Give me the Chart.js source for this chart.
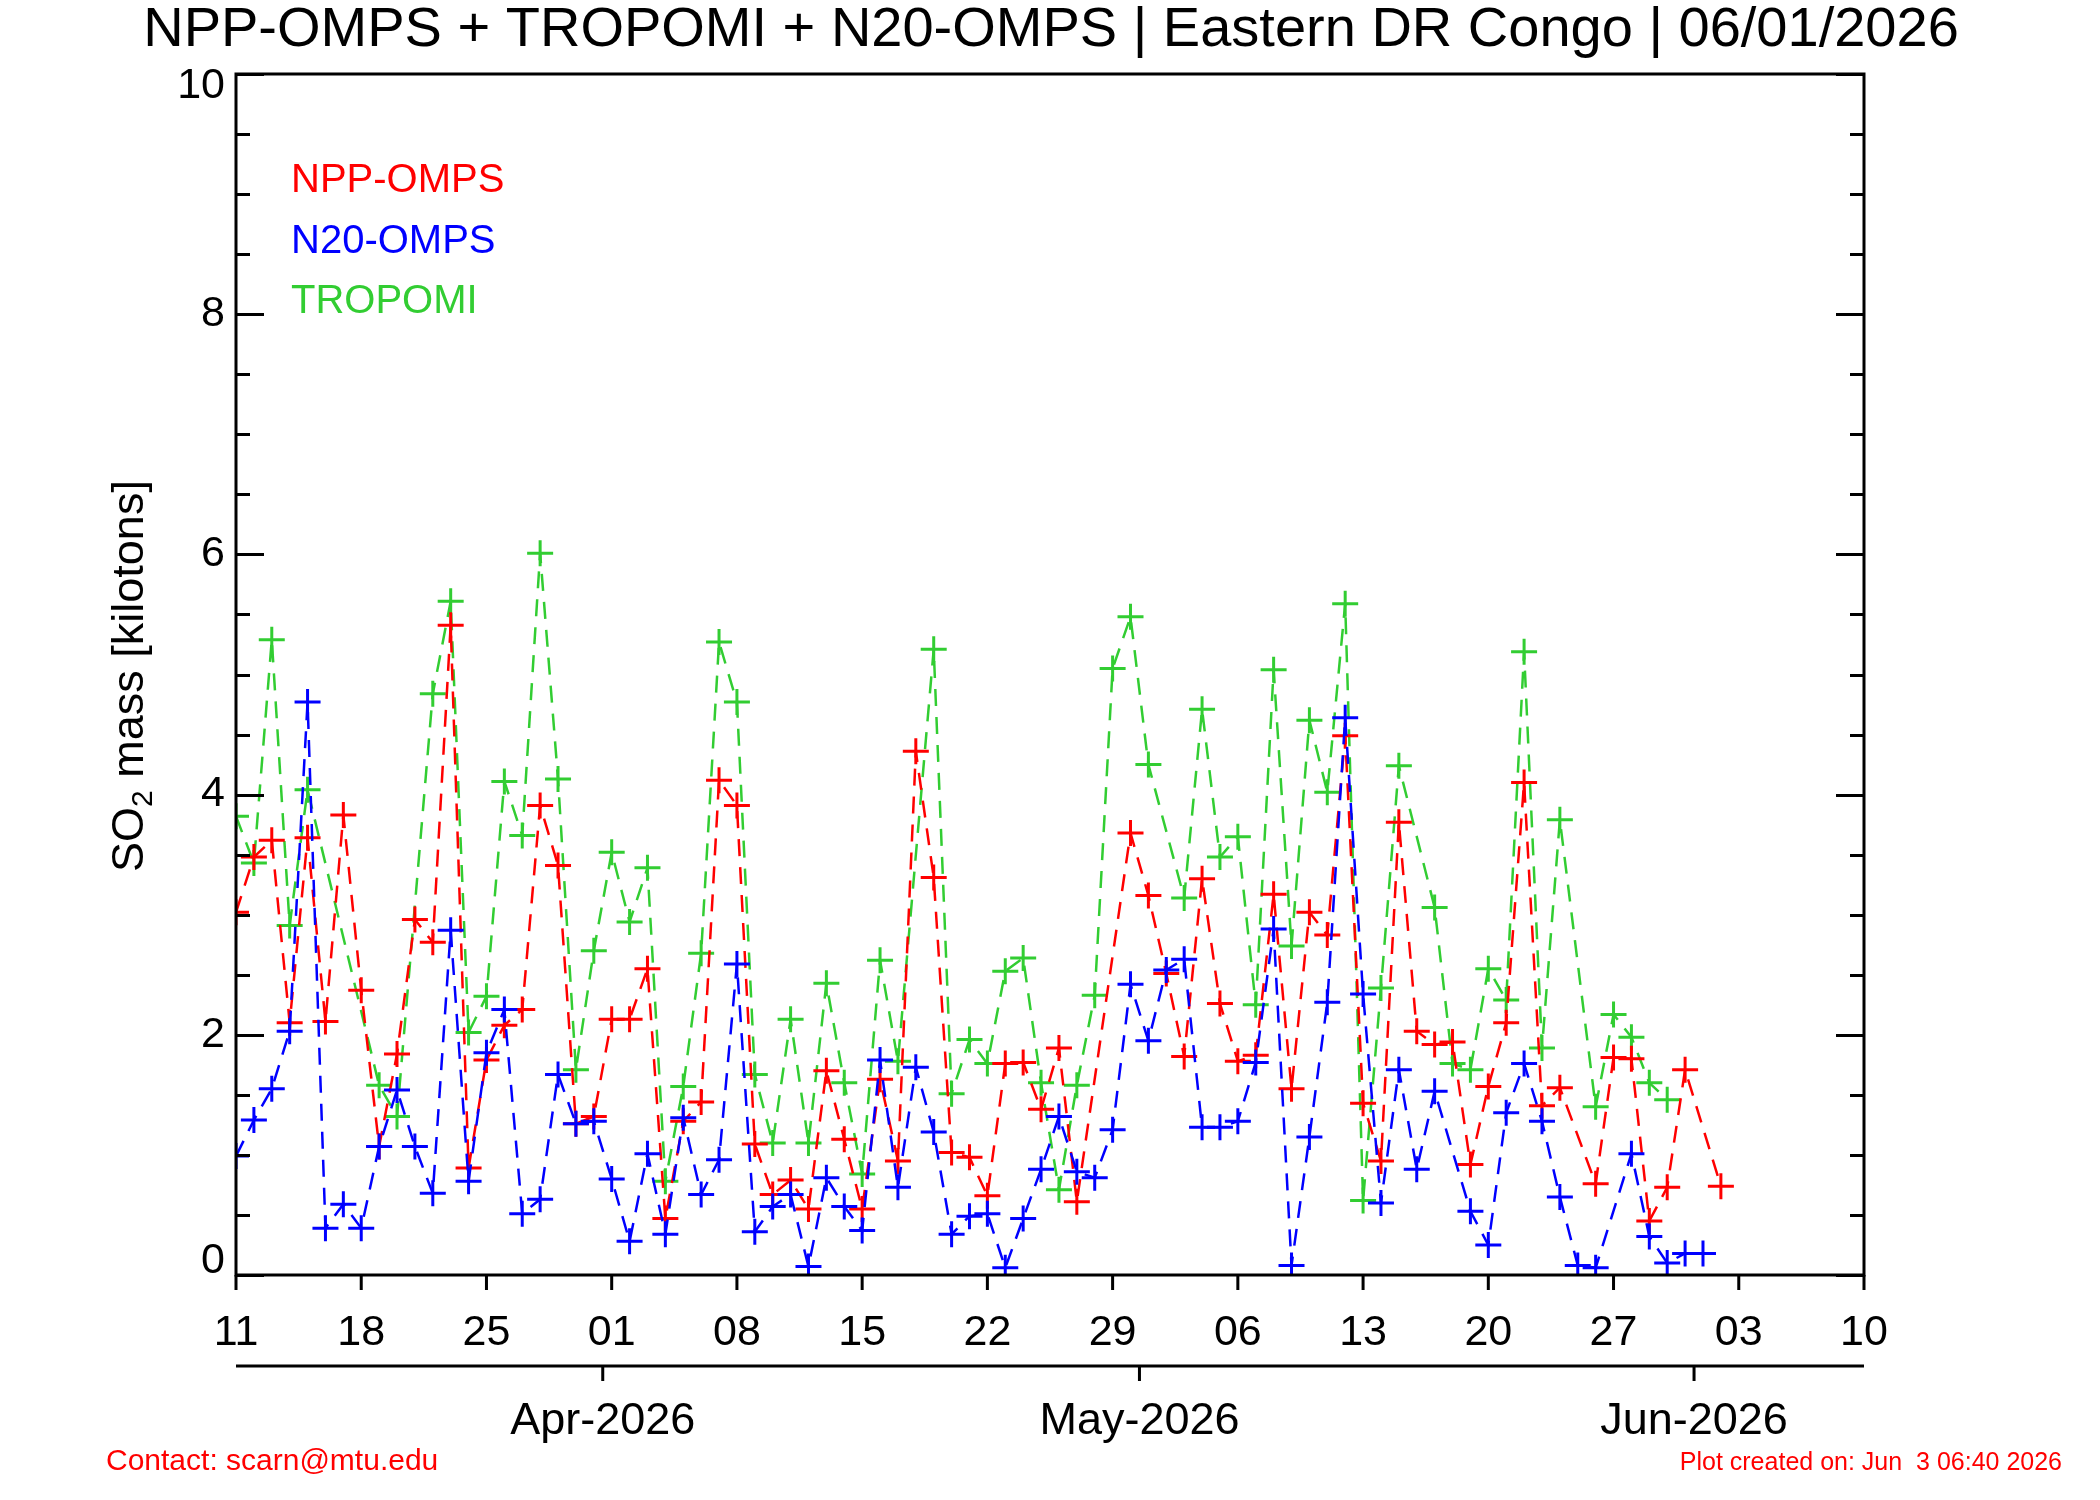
<!DOCTYPE html>
<html>
<head>
<meta charset="utf-8">
<script src="https://cdn.jsdelivr.net/npm/chart.js@4.4.1/dist/chart.umd.min.js"></script>
<style>
  html, body { margin: 0; padding: 0; background: #fff; }
  canvas { display: block; }
</style>
</head>
<body>
<canvas id="so2Chart" width="2100" height="1500"></canvas>
<script>
// one value per day, index 0 = 11 Mar 2026 (null = no value that day)
const nppOmps = [
  3.02, 3.48, 3.62, 2.10, 3.64, 2.11, 3.83, 2.37, 1.07, 1.84,
  2.96, 2.77, 5.41, 0.89, 1.79, 2.08, 2.21, 3.91, 3.41, 1.26,
  1.32, 2.13, 2.13, 2.55, 0.47, 1.28, 1.44, 4.12, 3.91, 1.09,
  0.67, 0.79, 0.55, 1.70, 1.13, 0.55, 1.63, 0.95, 4.36, 3.31,
  1.02, 0.98, 0.66, 1.76, 1.77, 1.38, 1.89, 0.61, null, null,
  3.68, 3.16, 2.51, 1.82, 3.30, 2.26, 1.78, 1.83, 3.17, 1.55,
  3.02, 2.83, 4.49, 1.43, 0.95, 3.77, 2.03, 1.92, 1.94, 0.92,
  1.57, 2.10, 4.10, 1.41, 1.56, null, 0.76, 1.81, 1.80, 0.45,
  0.73, 1.71, null, 0.74
];
const n20Omps = [
  0.99, 1.29, 1.55, 2.03, 4.77, 0.39, 0.59, 0.39, 1.07, 1.54,
  1.07, 0.68, 2.87, 0.78, 1.85, 2.21, 0.51, 0.63, 1.67, 1.26,
  1.28, 0.80, 0.28, 1.01, 0.34, 1.31, 0.67, 0.96, 2.59, 0.36,
  0.57, 0.67, 0.07, 0.81, 0.57, 0.37, 1.79, 0.73, 1.73, 1.19,
  0.34, 0.49, 0.51, 0.06, 0.47, 0.88, 1.32, 0.86, 0.81, 1.21,
  2.42, 1.95, 2.54, 2.63, 1.23, 1.23, 1.28, 1.77, 2.88, 0.08,
  1.15, 2.27, 4.64, 2.34, 0.60, 1.71, 0.88, 1.53, null, 0.53,
  0.25, 1.35, 1.76, 1.28, 0.65, 0.08, 0.06, null, 1.01, 0.32,
  0.10, 0.18, 0.18, null
];
const tropomi = [
  3.82, 3.43, 5.29, 2.91, 4.04, null, null, null, 1.58, 1.32,
  null, 4.84, 5.61, 2.02, 2.32, 4.11, 3.66, 6.01, 4.13, 1.71,
  2.70, 3.52, 2.94, 3.39, 0.78, 1.57, 2.68, 5.27, 4.77, 1.67,
  1.10, 2.13, 1.10, 2.43, 1.60, 0.84, 2.62, 1.78, null, 5.21,
  1.51, 1.96, 1.76, 2.53, 2.64, 1.60, 0.71, 1.58, 2.33, 5.05,
  5.48, 4.25, null, 3.14, 4.71, 3.48, 3.65, 2.25, 5.04, 2.74,
  4.62, 4.02, 5.59, 0.62, 2.39, 4.24, null, 3.06, 1.76, 1.71,
  2.55, 2.29, 5.19, 1.89, 3.79, null, 1.40, 2.17, 1.98, 1.60,
  1.46, null, null, null
];

// x axis: weekly ticks (days since 11 Mar) and their day-of-month labels
const dayTicks = [0, 7, 14, 21, 28, 35, 42, 49, 56, 63, 70, 77, 84, 91];
const dayTickLabels = ['11', '18', '25', '01', '08', '15', '22', '29', '06', '13', '20', '27', '03', '10'];
const monthTicks = [20.5, 50.5, 81.5];
const monthLabels = ['Apr-2026', 'May-2026', 'Jun-2026'];
const yLabels = [0, 2, 4, 6, 8, 10];

const FONT = "'Liberation Sans', Arial, Helvetica, sans-serif";
const RED = '#ff0000', BLUE = '#0000ff', GREEN = '#32cd32';

function toPoints(vals) {
  return vals.map((v, i) => v === null ? null : { x: i, y: v }).filter(p => p);
}

function series(vals, color, order) {
  return {
    data: toPoints(vals),
    borderColor: color,
    borderWidth: 2.5,
    borderDash: [17, 11],
    pointStyle: 'cross',
    pointRadius: 13,
    pointBorderWidth: 3,
    pointBorderColor: color,
    pointBackgroundColor: color,
    fill: false,
    tension: 0,
    order: order
  };
}

// axes, ticks and all the texts, drawn around the library's scales
const frame = {
  id: 'frame',
  afterDatasetsDraw(chart) {
    const { ctx, chartArea: a, scales: { x, y } } = chart;
    ctx.save();
    ctx.strokeStyle = '#000';
    ctx.lineWidth = 3;
    ctx.lineCap = 'butt';
    ctx.strokeRect(a.left, a.top, a.right - a.left, a.bottom - a.top);

    ctx.beginPath();
    // y ticks every 0.5, long ones at labels, both sides pointing in
    for (let v = 0; v <= 10; v += 0.5) {
      const py = Math.round(y.getPixelForValue(v)) + 0.5;
      const len = v % 2 === 0 ? 28 : 14;
      ctx.moveTo(a.left, py); ctx.lineTo(a.left + len, py);
      ctx.moveTo(a.right, py); ctx.lineTo(a.right - len, py);
    }
    // x ticks pointing down
    dayTicks.forEach(d => {
      const px = x.getPixelForValue(d);
      ctx.moveTo(px, a.bottom); ctx.lineTo(px, a.bottom + 15);
    });
    // month axis underneath
    const my = 1366;
    ctx.moveTo(a.left, my); ctx.lineTo(a.right, my);
    monthTicks.forEach(d => {
      const px = x.getPixelForValue(d);
      ctx.moveTo(px, my); ctx.lineTo(px, my + 15);
    });
    ctx.stroke();
    ctx.restore();
  },
  afterDraw(chart) {
    const { ctx, chartArea: a, scales: { x, y } } = chart;
    ctx.save();
    ctx.fillStyle = '#000';
    ctx.textBaseline = 'middle';

    // title
    ctx.font = `56px ${FONT}`;
    ctx.textAlign = 'center';
    ctx.fillText('NPP-OMPS + TROPOMI + N20-OMPS | Eastern DR Congo | 06/01/2026', 1051, 31);

    // y labels
    ctx.font = `43px ${FONT}`;
    ctx.textAlign = 'right';
    yLabels.forEach(v => {
      let py = y.getPixelForValue(v);
      if (v === 0) py -= 14;
      if (v === 10) py += 12;
      ctx.fillText(String(v), a.left - 11, py);
    });

    // x labels
    ctx.textAlign = 'center';
    dayTicks.forEach((d, i) => {
      ctx.fillText(dayTickLabels[i], x.getPixelForValue(d), 1333);
    });
    ctx.font = `45px ${FONT}`;
    monthTicks.forEach((d, i) => {
      ctx.fillText(monthLabels[i], x.getPixelForValue(d), 1422);
    });

    // y title with subscript
    ctx.save();
    ctx.translate(127, 676);
    ctx.rotate(-Math.PI / 2);
    ctx.textAlign = 'left';
    ctx.textBaseline = 'alphabetic';
    const big = `45px ${FONT}`, small = `30px ${FONT}`;
    ctx.font = big;
    const w1 = ctx.measureText('SO').width;
    const w3 = ctx.measureText(' mass [kilotons]').width;
    ctx.font = small;
    const w2 = ctx.measureText('2').width;
    let sx = -(w1 + w2 + w3) / 2;
    ctx.font = big;
    ctx.fillText('SO', sx, 16);
    ctx.font = small;
    ctx.fillText('2', sx + w1, 25);
    ctx.font = big;
    ctx.fillText(' mass [kilotons]', sx + w1 + w2, 16);
    ctx.restore();

    // legend
    ctx.font = `40px ${FONT}`;
    ctx.textAlign = 'left';
    ctx.fillStyle = RED;   ctx.fillText('NPP-OMPS', 291, 181);
    ctx.fillStyle = BLUE;  ctx.fillText('N20-OMPS', 291, 242);
    ctx.fillStyle = GREEN; ctx.fillText('TROPOMI', 291, 302);

    // footer
    ctx.fillStyle = RED;
    ctx.font = `30px ${FONT}`;
    ctx.fillText('Contact: scarn@mtu.edu', 106, 1462);
    ctx.font = `25px ${FONT}`;
    ctx.textAlign = 'right';
    ctx.fillText('Plot created on: Jun  3 06:40 2026', 2062, 1463);
    ctx.restore();
  }
};

const so2Chart = new Chart(document.getElementById('so2Chart'), {
  type: 'line',
  data: {
    datasets: [
      series(n20Omps, BLUE, 1),
      series(nppOmps, RED, 2),
      series(tropomi, GREEN, 3)
    ]
  },
  options: {
    responsive: false,
    devicePixelRatio: 1,
    animation: false,
    layout: { padding: { left: 236, right: 236, top: 74, bottom: 225 } },
    plugins: {
      legend: { display: false },
      title: { display: false },
      tooltip: { enabled: false }
    },
    scales: {
      x: { type: 'linear', min: 0, max: 91, display: false },
      y: { type: 'linear', min: 0, max: 10, display: false }
    }
  },
  plugins: [frame]
});
</script>
</body>
</html>
